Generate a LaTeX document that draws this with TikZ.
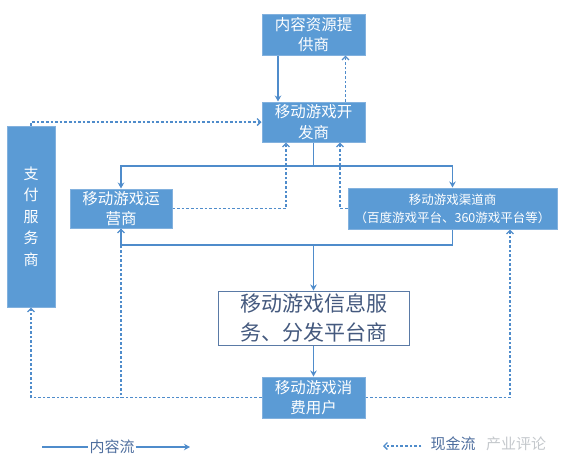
\documentclass[tikz,border=0pt]{standalone}
\usepackage{fontspec}
\setmainfont{Noto Sans CJK SC}
\usetikzlibrary{arrows.meta}
\definecolor{boxblue}{HTML}{5B9BD5}
\definecolor{boxedge}{HTML}{82B1DE}
\definecolor{linkblue}{HTML}{4F8CCB}
\definecolor{infoedge}{HTML}{5A7AA6}
\definecolor{infotext}{HTML}{44597E}
\definecolor{legtext}{HTML}{4E6E9E}
\definecolor{wmgray}{HTML}{C4C8CC}
\tikzset{
  bluebox/.style={draw=boxedge, fill=boxblue, text=white, line width=1pt, inner sep=0pt, align=center,
    font=\fontsize{15.5}{20.5}\selectfont},
  infobox/.style={draw=infoedge, fill=white, text=infotext, line width=1pt, inner sep=0pt, align=center,
    font=\fontsize{21}{29}\selectfont},
  contentflow/.style={draw=linkblue, line width=1.7pt},
  contentarrow/.style={contentflow, -{Stealth[length=6pt,width=6.5pt]}},
  cashflow/.style={draw=linkblue, line width=1.4pt, dash pattern=on 2.6pt off 2pt},
  casharrow/.style={cashflow, -{Straight Barb[length=3.5pt,width=7pt,line width=1.3pt]}},
  legendtext/.style={text=legtext, inner sep=1pt, font=\fontsize{15}{18}\selectfont},
}
\begin{document}
\begin{tikzpicture}[x=1pt,y=-1pt]
\useasboundingbox (0,0) rectangle (567,475);
% nodes
\node[bluebox, minimum width=103pt, minimum height=41pt] (src) at (313.5,34.5) {内容资源提\\供商};
\node[bluebox, minimum width=103pt, minimum height=40pt] (dev) at (313.5,122) {移动游戏开\\发商};
\node[bluebox, minimum width=48pt, minimum height=181pt, font=\fontsize{15}{21.5}\selectfont] (pay) at (31,216.5) {支\\付\\服\\务\\商};
\node[bluebox, minimum width=102pt, minimum height=39pt] (op) at (121,208.5) {移动游戏运\\营商};
\node[bluebox, minimum width=209pt, minimum height=41pt, font=\fontsize{12.5}{18}\selectfont] (ch) at (452.5,208.5) {移动游戏渠道商\\（百度游戏平台、360游戏平台等）};
\node[infobox, minimum width=191pt, minimum height=54pt] (info) at (313.5,318) {移动游戏信息服\\务、分发平台商};
\node[bluebox, minimum width=103pt, minimum height=41pt] (user) at (313.5,397.5) {移动游戏消\\费用户};

% content flow (solid)
\draw[contentarrow] ([xshift=-35.5pt]src.south) -- ([xshift=-35.5pt]dev.north);
\coordinate (split) at (313.5,166);
\draw[contentflow] (dev.south) -- (split);
\draw[contentarrow] (split) -| (op.north);
\draw[contentarrow] (split) -| (ch.north);
\coordinate (merge) at (313.5,245);
\draw[contentflow] (op.south) |- (merge);
\draw[contentflow] (ch.south) |- (merge);
\draw[contentarrow] (merge) -- (info.north);
\draw[contentarrow] (info.south) -- (user.north);

% cash flow (dashed)
\draw[casharrow] ([xshift=32pt]dev.north) -- ([xshift=32pt]src.south);
\draw[casharrow] (op.east) -| ([xshift=-27.5pt]dev.south);
\draw[casharrow] (ch.west) -| ([xshift=26.5pt]dev.south);
\draw[casharrow] (pay.north) |- (dev.west);
\draw[casharrow] (user.west) -| (pay.south);
\draw[casharrow] (user.west) -| (op.south);
\draw[casharrow] (user.east) -| ([xshift=57.5pt]ch.south);

% legend
\node[legendtext] (lc) at (112,447) {内容流};
\coordinate (lcs) at (42,447);
\coordinate (lce) at (190,447);
\draw[contentflow] (lcs) -- (lc.west);
\draw[contentflow, -{Stealth[length=6pt,width=6.5pt]}] (lc.east) -- (lce);
\node[text=wmgray, inner sep=0pt, font=\fontsize{15}{18}\selectfont] (wm) at (516,444) {产业评论};
\node[legendtext] (cash) at (453,444) {现金流};
\coordinate (cse) at (383,446);
\draw[casharrow] ([xshift=-8pt]cash.west |- cse) -- (cse);
\end{tikzpicture}
\end{document}
